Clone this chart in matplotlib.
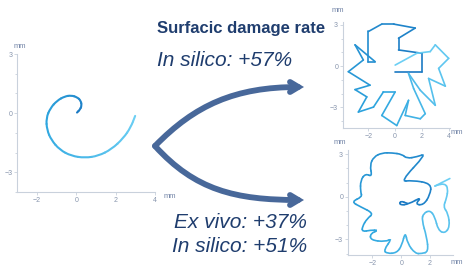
import numpy as np
import matplotlib
matplotlib.use("Agg")
import matplotlib.pyplot as plt
from matplotlib.path import Path
from matplotlib.patches import PathPatch, FancyArrowPatch
from matplotlib.colors import LinearSegmentedColormap
from matplotlib.ticker import MultipleLocator

plt.rcParams['font.family'] = ['Liberation Sans', 'DejaVu Sans']

# left: spiral trajectory (mm)
spiral_x = [0.03, 0.17, 0.27, 0.22, 0.03, -0.26, -0.6, -0.99, -1.33, -1.54,
            -1.5, -1.28, -0.85, -0.26, 0.43, 1.11, 1.79, 2.39, 2.77, 2.99]
spiral_y = [0.03, 0.17, 0.37, 0.64, 0.81, 0.90, 0.85, 0.63, 0.25, -0.25,
            -0.85, -1.36, -1.86, -2.17, -2.27, -2.17, -1.83, -1.27, -0.71, -0.14]

# top right: in silico trajectory (jagged)
top_x = [0.0, 2.0, 2.0, 0.25, 0.25, 1.5, -0.12, -1.0, -2.0, -2.0, -1.5, -3.0,
         -2.38, -3.5, -1.88, -3.0, -2.12, -2.75, -1.62, -0.88, 0.0, -1.0, 0.12,
         1.0, 0.75, 1.88, 2.25, 1.38, 1.0, 1.88, 3.0, 2.5, 3.75, 3.25, 4.0, 3.0,
         2.62, 1.62, 0.0]
top_y = [-0.41, -0.41, 0.93, 1.17, 2.02, 2.76, 3.05, 3.05, 2.51, 0.32, 0.32, 1.54,
         0.44, -0.41, -1.39, -1.71, -2.24, -3.34, -2.98, -1.88, -1.88, -3.59, -4.32,
         -2.49, -3.59, -3.83, -3.46, -1.63, -0.54, -1.76, -2.85, -0.9, -1.46, -0.17,
         0.56, 1.54, 1.05, 0.93, 0.07]

# bottom right: ex vivo trajectory (smooth)
bot_x = [0.44, -0.07, -0.11, 0.51, 1.43, 0.97, 1.54, 2.0, 2.11, 0.74, -0.07, 1.77,
         1.08, 0.39, 0.05, -0.64, -1.33, -1.91, -2.18, -2.02, -2.48, -2.83, -2.83,
         -2.71, -3.47, -2.83, -1.91, -2.37, -2.71, -2.71, -2.14, -1.56, -2.14, -2.14,
         -1.1, -0.64, -1.22, -0.99, -0.3, 0.05, 0.28, 0.44, 0.97, 1.43, 1.89, 1.77,
         1.43, 1.54, 2.0, 2.34, 2.57, 3.03, 3.38, 3.26, 2.92, 3.15, 3.26, 3.03, 2.46,
         2.23, 3.38]
bot_y = [-0.47, -0.28, -0.59, -0.52, 0.0, -0.52, -0.59, 0.12, 0.94, 1.17, 1.06, 3.05,
         2.82, 2.7, 3.0, 3.1, 3.1, 2.82, 2.23, 1.41, 1.64, 1.17, 0.35, 0.0, -0.35,
         -0.7, -1.17, -1.53, -2.11, -2.46, -2.35, -2.35, -2.58, -3.05, -3.17, -2.93,
         -3.76, -4.0, -3.95, -3.4, -2.46, -3.29, -4.0, -4.0, -3.87, -2.82, -1.64,
         -1.17, -0.94, -1.41, -2.35, -2.58, -2.11, -1.17, -0.7, -0.12, 0.59, 0.94,
         0.82, 0.7, 1.29]

blues = LinearSegmentedColormap.from_list('traj', ['#1a78c2', '#2ea6df', '#6ccff4'])
grey = '#c9d1dc'
tick_c = '#8795ad'
navy = '#1f3d6e'


def gradient_line(ax, xs, ys, smooth, lw=1.3):
    pts = np.column_stack([xs, ys])
    n = len(pts)
    if not smooth:
        for i in range(n - 1):
            p = Path([pts[i], pts[i + 1]], [Path.MOVETO, Path.LINETO])
            ax.add_patch(PathPatch(p, fc='none', ec=blues(i / (n - 2)), lw=lw,
                                   capstyle='round', joinstyle='round'))
        return
    mids = (pts[:-1] + pts[1:]) / 2
    segs = [Path([pts[0], mids[0]], [Path.MOVETO, Path.LINETO])]
    for i in range(1, n - 1):
        segs.append(Path([mids[i - 1], pts[i], mids[i]],
                         [Path.MOVETO, Path.CURVE3, Path.CURVE3]))
    segs.append(Path([mids[-1], pts[-1]], [Path.MOVETO, Path.LINETO]))
    for i, p in enumerate(segs):
        ax.add_patch(PathPatch(p, fc='none', ec=blues(i / (len(segs) - 1)), lw=lw,
                               capstyle='round'))


def style(ax, xlim, ylim, xticks=(-2, 0, 2, 4)):
    ax.set_xlim(*xlim)
    ax.set_ylim(*ylim)
    for s in ['top', 'right']:
        ax.spines[s].set_visible(False)
    for s in ['left', 'bottom']:
        ax.spines[s].set_color(grey)
        ax.spines[s].set_linewidth(0.8)
    ax.set_xticks(list(xticks))
    ax.set_yticks([-3, 0, 3])
    ax.yaxis.set_minor_locator(MultipleLocator(1))
    ax.tick_params(which='both', colors=grey, labelcolor=tick_c, labelsize=5,
                   length=2, width=0.6, pad=1.5)
    ax.tick_params(which='minor', length=1.5)
    ax.patch.set_alpha(0)


fig = plt.figure(figsize=(4.64, 2.68), dpi=100)

ax1 = fig.add_axes([17.5 / 464, 76 / 268, 137.5 / 464, 138 / 268])
style(ax1, (-3, 4), (-4, 3))
gradient_line(ax1, spiral_x, spiral_y, smooth=True, lw=1.5)

ax2 = fig.add_axes([343 / 464, 140 / 268, 107 / 464, 106 / 268])
style(ax2, (-3.9, 4.1), (-4.5, 3.2))
gradient_line(ax2, top_x, top_y, smooth=False, lw=1.2)

ax3 = fig.add_axes([348 / 464, 13 / 268, 105 / 464, 105 / 268])
style(ax3, (-3.7, 3.6), (-4.1, 3.3), xticks=(-2, 0, 2))
gradient_line(ax3, bot_x, bot_y, smooth=True, lw=1.2)

# overlay in pixel coordinates for text and arrows
ov = fig.add_axes([0, 0, 1, 1])
ov.set_xlim(0, 464)
ov.set_ylim(268, 0)
ov.axis('off')
ov.patch.set_alpha(0)

for x, y, s, ha in [(20, 46, 'mm', 'center'), (170, 196, 'mm', 'center'),
                    (338, 10, 'mm', 'center'), (463, 133, 'mm', 'right'),
                    (340, 143, 'mm', 'center'), (463, 262, 'mm', 'right')]:
    ov.text(x, y, s, fontsize=5.5, color='#7486a8', ha=ha, va='center')

ov.text(241, 28, 'Surfacic damage rate', fontsize=12, fontweight='bold',
        color=navy, ha='center', va='center')
ov.text(225, 60, 'In silico: +57%', fontsize=15, color=navy, ha='center',
        va='center', fontstyle='italic')
ov.text(240, 222, 'Ex vivo: +37%', fontsize=15, color=navy, ha='center',
        va='center', fontstyle='italic')
ov.text(240, 247, 'In silico: +51%', fontsize=15, color=navy, ha='center',
        va='center', fontstyle='italic')

arrow_c = '#48689a'
up = Path([(155, 146), (195, 105), (235, 87), (304, 87)],
          [Path.MOVETO, Path.CURVE4, Path.CURVE4, Path.CURVE4])
dn = Path([(155, 146), (195, 190), (235, 200), (304, 200)],
          [Path.MOVETO, Path.CURVE4, Path.CURVE4, Path.CURVE4])
for p in [up, dn]:
    ov.add_patch(FancyArrowPatch(path=p, arrowstyle='->,head_length=6,head_width=3.6',
                                 color=arrow_c, lw=4.2, capstyle='round',
                                 joinstyle='miter'))

fig.savefig('out.png', dpi=100)
